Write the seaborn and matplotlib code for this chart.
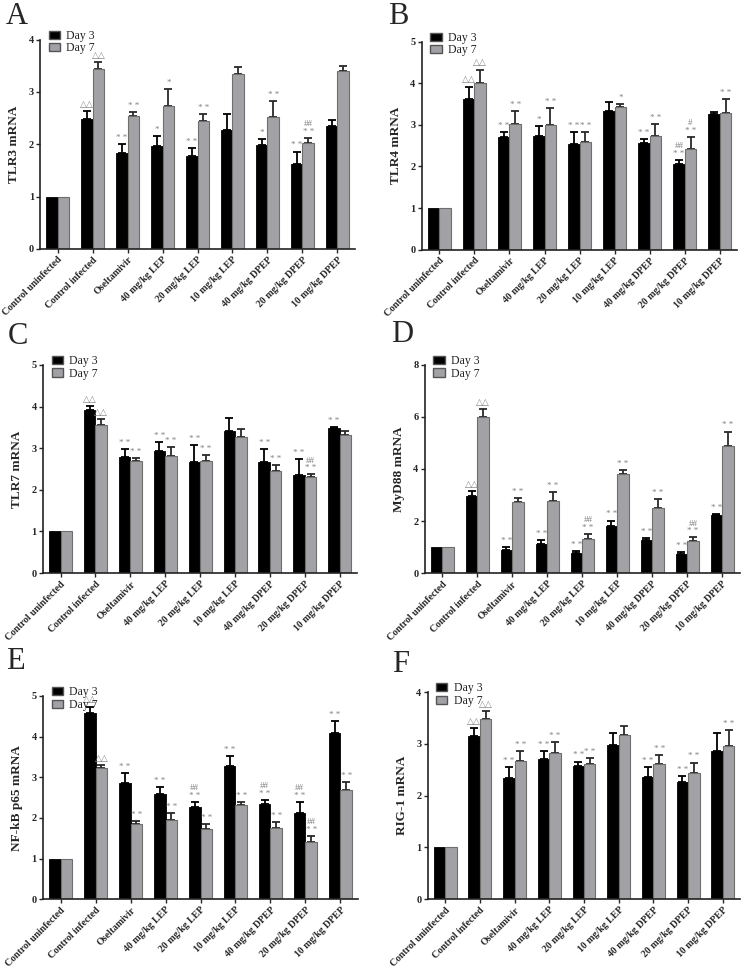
import numpy as np
import pandas as pd
import matplotlib
matplotlib.use("Agg")
import matplotlib.pyplot as plt
import seaborn as sns

categories = ["Control uninfected", "Control infected", "Oseltamivir",
              "40 mg/kg LEP", "20 mg/kg LEP", "10 mg/kg LEP",
              "40 mg/kg DPEP", "20 mg/kg DPEP", "10 mg/kg DPEP"]
days = ["Day 3", "Day 7"]

# TLR3
tlr3_d3 = [1, 2.48, 1.84, 1.96, 1.78, 2.28, 1.99, 1.63, 2.34]
tlr3_d7 = [1, 3.43, 2.54, 2.74, 2.44, 3.35, 2.52, 2.02, 3.40]
tlr3_e3 = [0, 0.16, 0.17, 0.20, 0.15, 0.30, 0.11, 0.23, 0.12]
tlr3_e7 = [0, 0.14, 0.07, 0.32, 0.14, 0.13, 0.30, 0.10, 0.09]
tlr3_s3 = ["", "△△", "**", "*", "**", "", "*", "**", ""]
tlr3_s7 = ["", "△△", "**", "*", "**", "", "**", "##\n**", ""]

# TLR4
tlr4_d3 = [1, 3.62, 2.70, 2.73, 2.55, 3.33, 2.57, 2.06, 3.26]
tlr4_d7 = [1, 4.00, 3.02, 3.00, 2.60, 3.42, 2.73, 2.41, 3.28]
tlr4_e3 = [0, 0.30, 0.12, 0.24, 0.27, 0.23, 0.09, 0.09, 0.04]
tlr4_e7 = [0, 0.33, 0.32, 0.40, 0.22, 0.09, 0.30, 0.30, 0.33]
tlr4_s3 = ["", "△△", "**", "*", "**", "", "**", "##\n**", ""]
tlr4_s7 = ["", "△△", "**", "**", "**", "*", "**", "#\n**", "**"]

# TLR7
tlr7_d3 = [1, 3.91, 2.80, 2.93, 2.66, 3.42, 2.66, 2.35, 3.48]
tlr7_d7 = [1, 3.56, 2.70, 2.82, 2.69, 3.28, 2.45, 2.30, 3.32]
tlr7_e3 = [0, 0.11, 0.18, 0.21, 0.42, 0.31, 0.31, 0.38, 0.03]
tlr7_e7 = [0, 0.14, 0.06, 0.20, 0.14, 0.18, 0.15, 0.07, 0.09]
tlr7_s3 = ["", "△△", "**", "**", "**", "", "**", "**", "**"]
tlr7_s7 = ["", "△△", "**", "**", "**", "", "**", "##\n**", ""]

# MyD88
myd88_d3 = [1, 2.97, 0.87, 1.11, 0.77, 1.82, 1.28, 0.74, 2.23]
myd88_d7 = [1, 6.01, 2.72, 2.78, 1.31, 3.81, 2.50, 1.24, 4.90]
myd88_e3 = [0, 0.19, 0.13, 0.16, 0.09, 0.20, 0.08, 0.07, 0.05]
myd88_e7 = [0, 0.29, 0.18, 0.33, 0.20, 0.14, 0.35, 0.13, 0.54]
myd88_s3 = ["", "△△", "**", "**", "**", "**", "**", "**", "**"]
myd88_s7 = ["", "△△", "**", "**", "##\n**", "**", "**", "##\n**", "**"]

# NF-kB p65
nfkb_d3 = [1, 4.57, 2.86, 2.60, 2.26, 3.27, 2.34, 2.13, 4.10]
nfkb_d7 = [1, 3.23, 1.84, 1.94, 1.72, 2.32, 1.76, 1.41, 2.69]
nfkb_e3 = [0, 0.17, 0.24, 0.17, 0.14, 0.25, 0.11, 0.27, 0.29]
nfkb_e7 = [0, 0.08, 0.08, 0.17, 0.13, 0.07, 0.15, 0.14, 0.19]
nfkb_s3 = ["", "△△", "**", "**", "##\n**", "**", "##\n**", "##\n**", "**"]
nfkb_s7 = ["", "△△", "**", "**", "**", "**", "**", "##\n**", "**"]

# RIG-1
rig1_d3 = [1, 3.16, 2.34, 2.70, 2.58, 2.97, 2.37, 2.26, 2.86]
rig1_d7 = [1, 3.49, 2.67, 2.83, 2.61, 3.18, 2.61, 2.44, 2.95]
rig1_e3 = [0, 0.14, 0.21, 0.17, 0.08, 0.24, 0.18, 0.12, 0.35]
rig1_e7 = [0, 0.15, 0.20, 0.20, 0.12, 0.16, 0.18, 0.20, 0.32]
rig1_s3 = ["", "△△", "**", "**", "**", "", "**", "**", ""]
rig1_s7 = ["", "△△", "**", "**", "**", "", "**", "**", "**"]

panels = [
    ("A", "TLR3 mRNA", 4, [0, 1, 2, 3, 4], tlr3_d3, tlr3_d7, tlr3_e3, tlr3_e7, tlr3_s3, tlr3_s7),
    ("B", "TLR4 mRNA", 5, [0, 1, 2, 3, 4, 5], tlr4_d3, tlr4_d7, tlr4_e3, tlr4_e7, tlr4_s3, tlr4_s7),
    ("C", "TLR7 mRNA", 5, [0, 1, 2, 3, 4, 5], tlr7_d3, tlr7_d7, tlr7_e3, tlr7_e7, tlr7_s3, tlr7_s7),
    ("D", "MyD88 mRNA", 8, [0, 2, 4, 6, 8], myd88_d3, myd88_d7, myd88_e3, myd88_e7, myd88_s3, myd88_s7),
    ("E", "NF-kB p65 mRNA", 5, [0, 1, 2, 3, 4, 5], nfkb_d3, nfkb_d7, nfkb_e3, nfkb_e7, nfkb_s3, nfkb_s7),
    ("F", "RIG-1 mRNA", 4, [0, 1, 2, 3, 4], rig1_d3, rig1_d7, rig1_e3, rig1_e7, rig1_s3, rig1_s7),
]

# axes rectangles (figure fraction) and letter positions
rects = [
    [0.054, 0.743, 0.423, 0.216],
    [0.567, 0.742, 0.424, 0.215],
    [0.058, 0.408, 0.422, 0.215],
    [0.571, 0.408, 0.423, 0.215],
    [0.058, 0.071, 0.423, 0.210],
    [0.575, 0.071, 0.420, 0.214],
]
letters_xy = [(0.008, 0.998), (0.522, 0.998), (0.010, 0.667), (0.525, 0.669),
              (0.008, 0.332), (0.527, 0.328)]

sns.set_style("ticks")
plt.rcParams['font.family'] = ['Liberation Serif', 'DejaVu Sans']

black = "#000000"
gray = "#a2a2a6"
ann_color = "#808080"


def spaced(mark):
    # asterisks are printed with a small gap in the original figure
    lines = []
    for line in mark.split("\n"):
        lines.append(" ".join(line) if set(line) == {"*"} else line)
    return "\n".join(lines)


fig = plt.figure(figsize=(7.44, 9.68), dpi=100)

for (letter, ylabel, ymax, yticks, d3, d7, e3, e7, s3, s7), rect, lxy in zip(panels, rects, letters_xy):
    ax = fig.add_axes(rect)
    df = pd.DataFrame({
        "group": categories * 2,
        "day": [days[0]] * len(categories) + [days[1]] * len(categories),
        "value": list(d3) + list(d7),
    })
    sns.barplot(data=df, x="group", y="value", hue="day", order=categories,
                hue_order=days, palette=[black, gray], errorbar=None,
                width=0.66, gap=0, saturation=1, ax=ax, zorder=2)

    # bar outlines
    for bar in ax.containers[0]:
        bar.set_edgecolor(black)
        bar.set_linewidth(0.6)
    for bar in ax.containers[1]:
        bar.set_edgecolor("#6e6e6e")
        bar.set_linewidth(0.8)

    # error bars (upper only) and significance marks
    for cont, vals, errs, marks, ecol in [(ax.containers[0], d3, e3, s3, black),
                                          (ax.containers[1], d7, e7, s7, "#2a2a2a")]:
        xs = [b.get_x() + b.get_width() / 2 for b in cont]
        for x, v, e, m in zip(xs, vals, errs, marks):
            if e > 0:
                ax.errorbar(x, v, yerr=[[0], [e]], fmt="none", ecolor=ecol,
                            elinewidth=1.3, capsize=3.2, capthick=1.3, zorder=1)
            if m:
                ax.annotate(spaced(m), (x, v + e), xytext=(0, 1.5), textcoords="offset points",
                            ha="center", va="bottom", fontsize=6.5, color=ann_color,
                            linespacing=0.95, family=['Liberation Serif', 'DejaVu Sans'])

    ax.set_xlim(-0.5, len(categories) - 0.5)
    ax.set_ylim(0, ymax)
    ax.set_yticks(yticks)
    ax.set_yticklabels([str(t) for t in yticks], fontsize=7.5, fontweight="bold")
    ax.set_xticks(range(len(categories)))
    ax.set_xticklabels(categories, rotation=45, ha="right", rotation_mode="anchor",
                       fontsize=7.1, fontweight="bold")
    ax.set_xlabel("")
    ax.set_ylabel(ylabel, fontsize=9.5, fontweight="bold", labelpad=6)
    sns.despine(ax=ax)
    for sp in ["left", "bottom"]:
        ax.spines[sp].set_linewidth(1.2)
        ax.spines[sp].set_color("#222222")
    ax.tick_params(axis="both", length=3, width=1.0, pad=1.5)

    leg = ax.legend(loc="upper left", bbox_to_anchor=(0.012, 1.07), frameon=False,
                    fontsize=8.5, handlelength=0.95, handleheight=0.7,
                    labelspacing=0.05, handletextpad=0.55, borderaxespad=0)
    for h in leg.legend_handles:
        h.set_edgecolor("#555555")

    fig.text(lxy[0], lxy[1], letter, fontsize=22, ha="left", va="top")

fig.savefig("out.png", dpi=100)
